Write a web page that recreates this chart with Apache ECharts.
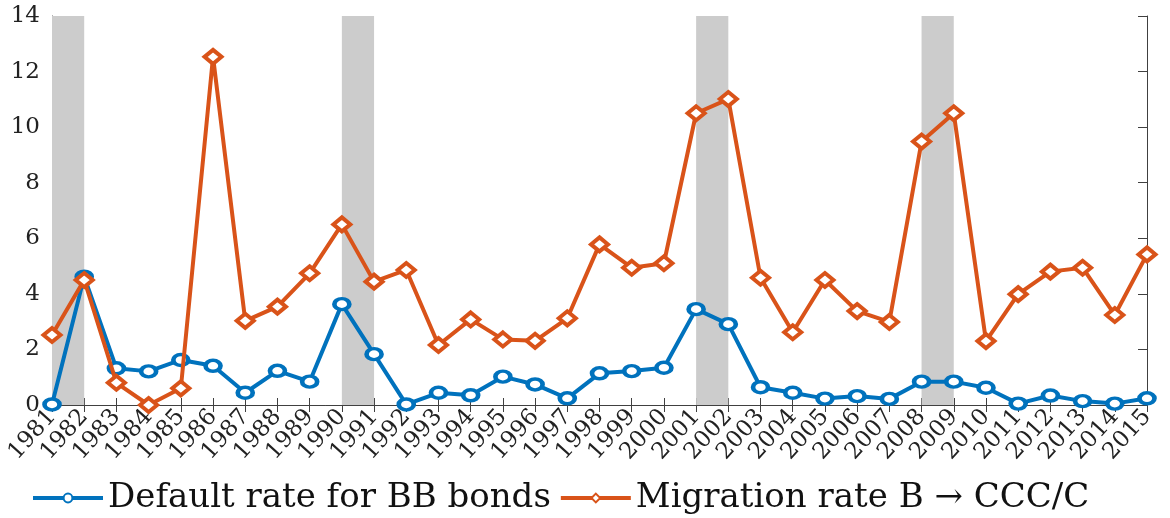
<!DOCTYPE html>
<html>
<head>
<meta charset="utf-8">
<script src="https://cdn.jsdelivr.net/npm/echarts@6/dist/echarts.min.js"></script>
<style>
html,body{margin:0;padding:0;background:#fff;}
#chart{width:1170px;height:518px;}
</style>
</head>
<body>
<div id="chart"></div>
<script>
const years = ['1981','1982','1983','1984','1985','1986','1987','1988','1989','1990','1991','1992','1993','1994','1995','1996','1997','1998','1999','2000','2001','2002','2003','2004','2005','2006','2007','2008','2009','2010','2011','2012','2013','2014','2015'];
const defaultRateBB = [0.02,4.62,1.32,1.21,1.62,1.41,0.44,1.23,0.84,3.63,1.83,0.02,0.44,0.35,1.02,0.74,0.24,1.14,1.22,1.34,3.45,2.91,0.64,0.44,0.23,0.32,0.22,0.84,0.84,0.62,0.05,0.34,0.14,0.05,0.24];
const migrationBtoCCC = [2.52,4.5,0.8,0.0,0.6,12.53,3.03,3.54,4.74,6.5,4.44,4.86,2.16,3.08,2.36,2.31,3.12,5.78,4.94,5.1,10.5,11.01,4.58,2.62,4.5,3.38,2.99,9.48,10.5,2.3,3.99,4.8,4.94,3.24,5.42];
const recessions = [['1981','1982'],['1990','1991'],['2001','2002'],['2008','2009']];
const yTicks = {min:0, max:14, interval:2};
const seriesNames = ['Default rate for BB bonds','Migration rate B \u2192 CCC/C'];

const FONT = 'DejaVu Serif';
const AX = '#404040';
const BLUE = '#0072BD', ORANGE = '#D95319';
const chart = echarts.init(document.getElementById('chart'));
chart.setOption({
  animation:false,
  textStyle:{fontFamily:FONT},
  grid:{left:52,right:23,top:16,bottom:113},
  legend:{
    left:26, bottom:-2, itemWidth:70, itemHeight:11, itemGap:8,
    lineStyle:{width:4},
    textStyle:{fontFamily:FONT,fontSize:34,color:'#111'},
    data:seriesNames
  },
  xAxis:[{
    type:'category', data:years, boundaryGap:false,
    axisLine:{lineStyle:{color:AX,width:1}},
    axisTick:{inside:true,length:7,interval:0,lineStyle:{color:AX}},
    axisLabel:{interval:0,rotate:48,margin:8,fontFamily:FONT,fontSize:23,color:'#222'},
    splitLine:{show:false}
  },{
    type:'category', data:years, boundaryGap:false, position:'top',
    axisLine:{lineStyle:{color:AX,width:1}},
    axisTick:{inside:true,length:7,interval:0,lineStyle:{color:AX}},
    axisLabel:{show:false}, splitLine:{show:false}
  }],
  yAxis:[{
    type:'value', min:yTicks.min, max:yTicks.max, interval:yTicks.interval,
    axisLine:{show:true,lineStyle:{color:AX,width:1}},
    axisTick:{show:false},
    axisLabel:{margin:12,fontFamily:FONT,fontSize:23,color:'#222'},
    splitLine:{show:false}
  },{
    type:'value', min:yTicks.min, max:yTicks.max, interval:yTicks.interval, position:'right',
    axisLine:{show:true,lineStyle:{color:AX,width:1}},
    axisTick:{show:true,inside:true,length:9,lineStyle:{color:AX}},
    axisLabel:{show:false}, splitLine:{show:false}
  }],
  series:[{
    type:'line', name:'recessions', data:[], z:0, silent:true,
    markArea:{silent:true, itemStyle:{color:'#cccccc'},
      data: recessions.map(r=>[{xAxis:r[0]},{xAxis:r[1]}])}
  },{
    type:'line', name:seriesNames[0], data:defaultRateBB, z:3,
    symbol:'circle', symbolSize:[15,11],
    lineStyle:{color:BLUE,width:4},
    itemStyle:{color:'#ffffff',borderColor:BLUE,borderWidth:4}
  },{
    type:'line', name:seriesNames[1], data:migrationBtoCCC, z:4,
    symbol:'diamond', symbolSize:[17,14],
    lineStyle:{color:ORANGE,width:4},
    itemStyle:{color:'#ffffff',borderColor:ORANGE,borderWidth:4}
  }]
});
</script>
</body>
</html>
